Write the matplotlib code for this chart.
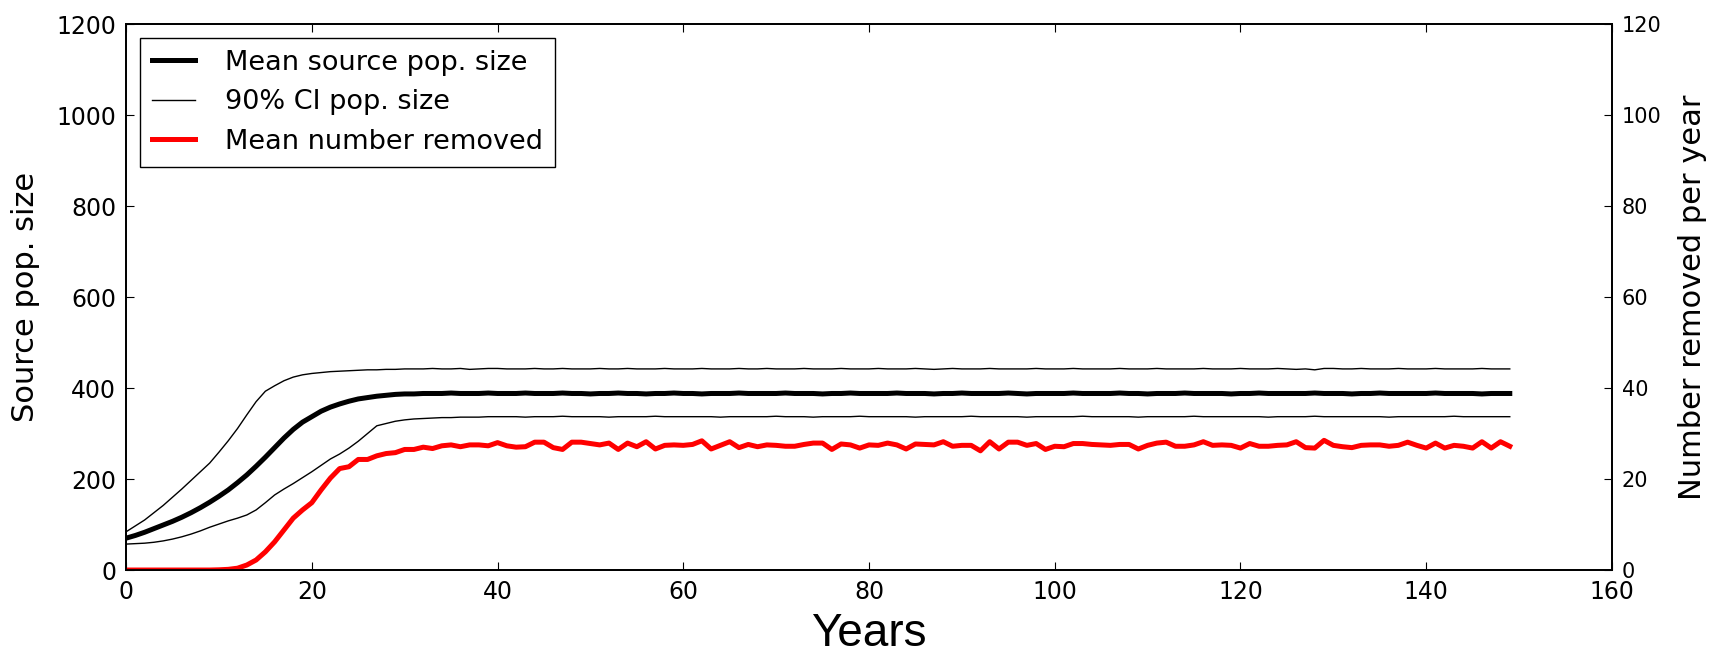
import numpy as np
import matplotlib
matplotlib.use('Agg')
import matplotlib.pyplot as plt

years = np.arange(150)

# mean source population size (left axis)
mean_start = [70, 76, 83, 91, 99, 107, 116, 126, 137, 149, 162, 176, 192, 209, 228, 248,
              269, 290, 309, 325, 337, 349, 358, 365, 371, 376, 379, 382, 384, 386, 387]
mean_rest = [387, 388, 388, 388, 389, 388, 388, 388, 389, 388,
             388, 388, 389, 388, 388, 388, 389, 388, 388, 387,
             388, 388, 389, 388, 388, 387, 388, 388, 389, 388,
             388, 387, 388, 388, 388, 389, 388, 388, 388, 388,
             389, 388, 388, 388, 387, 388, 388, 389, 388, 388,
             388, 388, 389, 388, 388, 388, 387, 388, 388, 389,
             388, 388, 388, 388, 389, 388, 387, 388, 388, 388,
             388, 389, 388, 388, 388, 388, 389, 388, 388, 387,
             388, 388, 388, 389, 388, 388, 388, 388, 387, 388,
             388, 389, 388, 388, 388, 388, 388, 389, 388, 388,
             388, 387, 388, 388, 389, 388, 388, 388, 388, 388,
             389, 388, 388, 388, 388, 387, 388, 388, 388]

# 90% CI bounds
upper_start = [84, 97, 110, 126, 142, 160, 178, 197, 216, 235, 259, 284, 311, 341, 370, 393,
               405, 416, 424, 429, 432, 434, 436, 437, 438, 439, 440, 440, 441, 441, 442]
upper_rest = [442, 442, 443, 442, 442, 443, 441, 442, 443, 443,
              442, 442, 442, 443, 442, 442, 443, 442, 442, 442,
              443, 442, 442, 443, 442, 442, 442, 443, 442, 442,
              442, 443, 442, 442, 442, 443, 442, 442, 443, 442,
              442, 442, 443, 442, 442, 442, 443, 442, 442, 442,
              443, 442, 442, 442, 443, 442, 441, 442, 443, 442,
              442, 442, 443, 442, 442, 442, 442, 443, 442, 442,
              442, 443, 442, 442, 442, 442, 443, 442, 442, 442,
              443, 442, 442, 442, 442, 443, 442, 442, 442, 443,
              442, 442, 442, 443, 442, 441, 442, 440, 443, 443,
              442, 442, 443, 442, 442, 442, 443, 442, 442, 442,
              443, 442, 442, 442, 442, 443, 442, 442, 442]

lower_start = [57, 58, 59, 61, 64, 68, 73, 79, 86, 94, 101, 108, 114, 121, 132, 148,
               165, 178, 190, 203, 216, 230, 244, 255, 268, 283, 300, 317, 322, 327, 330]
lower_rest = [332, 333, 334, 335, 335, 336, 336, 336, 337, 337,
              337, 337, 336, 337, 337, 337, 338, 337, 337, 337,
              337, 336, 337, 337, 337, 337, 338, 337, 337, 337,
              337, 337, 337, 336, 337, 337, 337, 337, 337, 338,
              337, 337, 337, 336, 337, 337, 337, 337, 338, 337,
              337, 337, 337, 337, 336, 337, 337, 337, 337, 337,
              338, 337, 337, 337, 337, 337, 336, 337, 337, 337,
              337, 337, 338, 337, 337, 337, 337, 337, 336, 337,
              337, 337, 337, 337, 338, 337, 337, 337, 337, 337,
              337, 337, 336, 337, 337, 337, 337, 338, 337, 337,
              337, 337, 337, 337, 337, 336, 337, 337, 337, 337,
              337, 337, 338, 337, 337, 337, 337, 337, 337]

# mean number removed per year (right axis)
removed = [0, 0, 0, 0, 0, 0, 0, 0, 0, 0,
           0.05, 0.15, 0.4, 1.1, 2.2, 4.0, 6.2, 8.8, 11.4, 13.2,
           14.8, 17.6, 20.2, 22.3, 22.7, 24.3, 24.3, 25.1, 25.6, 25.8,
           26.5, 26.5, 27.0, 26.7, 27.3, 27.5, 27.1, 27.5, 27.5, 27.3,
           28.0, 27.3, 27.0, 27.1, 28.1, 28.1, 26.9, 26.5, 28.1, 28.1,
           27.8, 27.5, 27.9, 26.5, 27.9, 27.1, 28.2, 26.6, 27.4, 27.5,
           27.4, 27.6, 28.4, 26.6, 27.4, 28.2, 26.9, 27.6, 27.1, 27.5,
           27.4, 27.2, 27.2, 27.6, 27.9, 27.9, 26.5, 27.7, 27.5, 26.8,
           27.5, 27.4, 27.9, 27.5, 26.6, 27.7, 27.6, 27.5, 28.2, 27.2,
           27.4, 27.4, 26.2, 28.2, 26.6, 28.1, 28.1, 27.4, 27.8, 26.5,
           27.2, 27.1, 27.8, 27.8, 27.6, 27.5, 27.4, 27.6, 27.6, 26.6,
           27.4, 27.9, 28.1, 27.2, 27.2, 27.5, 28.2, 27.4, 27.5, 27.4,
           26.8, 27.8, 27.2, 27.2, 27.4, 27.5, 28.2, 26.9, 26.8, 28.5,
           27.4, 27.1, 26.9, 27.4, 27.5, 27.5, 27.2, 27.4, 28.1, 27.4,
           26.8, 27.9, 26.8, 27.4, 27.2, 26.8, 28.2, 26.8, 28.2, 27.2]

mean_pop = mean_start + mean_rest
upper_ci = upper_start + upper_rest
lower_ci = lower_start + lower_rest

plt.rcParams['font.family'] = ['DejaVu Sans']

fig = plt.figure(figsize=(17.13, 6.58), dpi=100)
ax = fig.add_axes([0.0736, 0.1337, 0.8674, 0.8298])
ax2 = ax.twinx()

l1, = ax.plot(years, mean_pop, color='black', lw=3.6, label='Mean source pop. size')
l2, = ax.plot(years, upper_ci, color='black', lw=1.0, label='90% CI pop. size')
ax.plot(years, lower_ci, color='black', lw=1.0)
l3, = ax2.plot(years, removed, color='red', lw=3.6, label='Mean number removed')

ax.set_xlim(0, 160)
ax.set_ylim(0, 1200)
ax2.set_ylim(0, 120)
ax.set_xticks(range(0, 161, 20))
ax.set_yticks(range(0, 1201, 200))
ax2.set_yticks(range(0, 121, 20))

for a in (ax, ax2):
    for s in a.spines.values():
        s.set_linewidth(1.3)

ax.tick_params(axis='both', direction='in', length=6, labelsize=17, top=True, right=False, pad=7)
ax2.tick_params(axis='y', direction='in', length=6, labelsize=15, pad=7)

ax.set_ylabel('Source pop. size', fontsize=22, labelpad=12)
ax2.set_ylabel('Number removed per year', fontsize=22, labelpad=12)
ax.set_xlabel('Years', fontsize=33, family='Liberation Sans', labelpad=6)

leg = ax2.legend(handles=[l1, l2, l3], loc='upper left', fontsize=19.5, fancybox=False,
                 edgecolor='black', framealpha=1, handlelength=1.6, labelspacing=0.5,
                 handletextpad=1.1, borderpad=0.45)
leg.get_frame().set_linewidth(1.0)

plt.savefig('out.png', dpi=100)
